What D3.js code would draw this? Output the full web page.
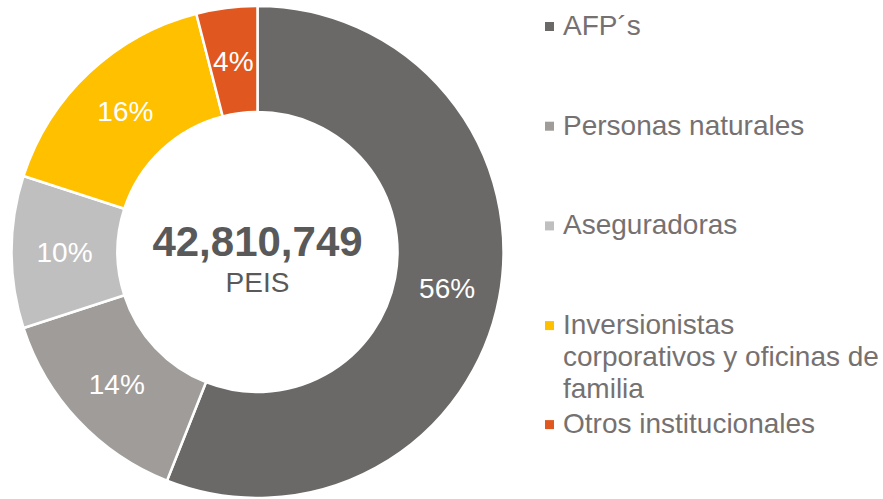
<!DOCTYPE html>
<html>
<head>
<meta charset="utf-8">
<script src="https://cdn.jsdelivr.net/npm/d3@7"></script>
<style>
  body { margin: 0; background: #fff; }
  svg { display: block; font-family: "Liberation Sans", Arial, sans-serif; }
</style>
</head>
<body>
<svg width="883" height="499"></svg>
<script>
const categories = ['AFP´s', 'Personas naturales', 'Aseguradoras',
  'Inversionistas corporativos y oficinas de familia', 'Otros institucionales'];
const legendLines = [['AFP´s'], ['Personas naturales'], ['Aseguradoras'],
  ['Inversionistas', 'corporativos y oficinas de', 'familia'], ['Otros institucionales']];
const shares = [56, 14, 10, 16, 4];
const colors = ['#6b6967', '#9f9c9a', '#bfbfbf', '#ffc000', '#e0581f'];
const totalLabel = '42,810,749';
const unitLabel = 'PEIS';

const svg = d3.select('svg');
const cx = 257.5, cy = 252;
const outer = 246, inner = 140;

const data = categories.map((c, i) => ({ name: c, value: shares[i], color: colors[i] }));

const pie = d3.pie().sort(null).value(d => d.value);
const arc = d3.arc().innerRadius(inner).outerRadius(outer);
const labelArc = d3.arc().innerRadius((inner + outer) / 2).outerRadius((inner + outer) / 2);

const g = svg.append('g').attr('transform', `translate(${cx}, ${cy})`);

const arcs = pie(data);

g.selectAll('path')
  .data(arcs)
  .join('path')
  .attr('d', arc)
  .attr('fill', d => d.data.color)
  .attr('stroke', '#fff')
  .attr('stroke-width', 2.5)
  .attr('stroke-linejoin', 'round');

g.selectAll('text.pct')
  .data(arcs)
  .join('text')
  .attr('class', 'pct')
  .attr('transform', d => `translate(${labelArc.centroid(d)})`)
  .attr('text-anchor', 'middle')
  .attr('dy', '0.36em')
  .attr('fill', '#fff')
  .attr('font-size', 28)
  .text(d => d.data.value + '%');

// centre text
g.append('text')
  .attr('text-anchor', 'middle')
  .attr('y', 4)
  .attr('fill', '#595959')
  .attr('font-size', 42)
  .attr('font-weight', 'bold')
  .text(totalLabel);

g.append('text')
  .attr('text-anchor', 'middle')
  .attr('y', 40)
  .attr('fill', '#595959')
  .attr('font-size', 28)
  .text(unitLabel);

// legend
const legend = svg.append('g').attr('transform', 'translate(545, 0)');
const lineH = 32;
let y = 35;
let prevLast = 0;
legendLines.forEach((lines, i) => {
  // last entry sits right under the wrapped one
  if (i === legendLines.length - 1) y = prevLast + 35;
  const item = legend.append('g');
  item.append('rect')
    .attr('x', 0)
    .attr('y', y - 13)
    .attr('width', 9)
    .attr('height', 9)
    .attr('fill', colors[i]);
  const t = item.append('text')
    .attr('fill', '#767171')
    .attr('font-size', 28);
  lines.forEach((l, j) => {
    t.append('tspan').attr('x', 18).attr('y', y + j * lineH).text(l);
  });
  prevLast = y + (lines.length - 1) * lineH;
  y += 99.7;
});
</script>
</body>
</html>
